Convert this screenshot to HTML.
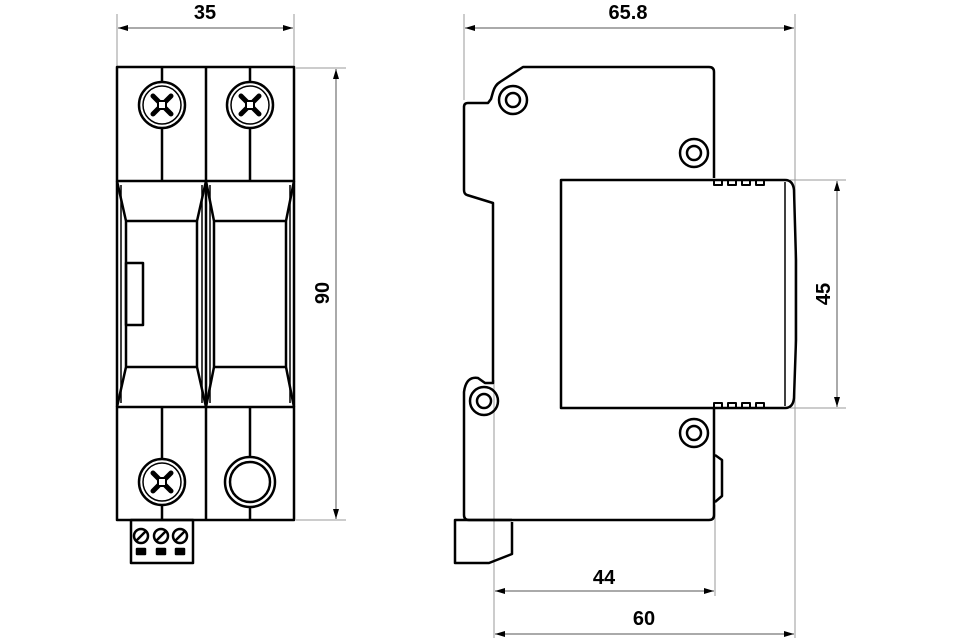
<!DOCTYPE html>
<html><head><style>html,body{margin:0;padding:0;background:#fff}svg{display:block}</style></head><body>
<svg width="960" height="640" viewBox="0 0 960 640" xmlns="http://www.w3.org/2000/svg">
<defs>
<marker id="a" viewBox="0 0 10 6" refX="10" refY="3" markerWidth="10" markerHeight="6" orient="auto-start-reverse" markerUnits="userSpaceOnUse"><path d="M0,0 L10,3 L0,6 Z" fill="#000"/></marker>
</defs>
<g stroke="#999" stroke-width="1" fill="none">
<line x1="117" y1="14" x2="117" y2="66"/><line x1="294" y1="14" x2="294" y2="66"/>
<line x1="296" y1="68" x2="346" y2="68"/><line x1="296" y1="520" x2="346" y2="520"/>
<line x1="464" y1="14" x2="464" y2="100"/><line x1="795" y1="14" x2="795" y2="638"/>
<line x1="790" y1="180" x2="846" y2="180"/><line x1="790" y1="408" x2="846" y2="408"/>
<line x1="494" y1="380" x2="494" y2="638"/><line x1="715" y1="505" x2="715" y2="596"/>
</g>
<g stroke="#555" stroke-width="1" fill="none">
<line x1="118" y1="28" x2="293" y2="28" marker-start="url(#a)" marker-end="url(#a)"/>
<line x1="336" y1="69" x2="336" y2="519" marker-start="url(#a)" marker-end="url(#a)"/>
<line x1="465" y1="28" x2="794" y2="28" marker-start="url(#a)" marker-end="url(#a)"/>
<line x1="837" y1="181" x2="837" y2="407" marker-start="url(#a)" marker-end="url(#a)"/>
<line x1="495" y1="591" x2="714" y2="591" marker-start="url(#a)" marker-end="url(#a)"/>
<line x1="495" y1="634" x2="794" y2="634" marker-start="url(#a)" marker-end="url(#a)"/>
</g>
<g font-family="Liberation Sans, sans-serif" font-weight="bold" font-size="20" fill="#000" text-anchor="middle">
<text x="205" y="19">35</text>
<text x="628" y="19">65.8</text>
<text x="604" y="584">44</text>
<text x="644" y="625">60</text>
<text transform="translate(329,293) rotate(-90)">90</text>
<text transform="translate(830,294) rotate(-90)">45</text>
</g>
<g stroke="#000" stroke-width="2.5" fill="none" stroke-linejoin="round">
<rect x="117" y="67" width="177" height="453"/>
<line x1="206" y1="67" x2="206" y2="520"/>
<line x1="117" y1="181" x2="294" y2="181"/>
<line x1="117" y1="407" x2="294" y2="407"/>
<line x1="162" y1="67" x2="162" y2="181"/><line x1="250" y1="67" x2="250" y2="181"/>
<line x1="162" y1="407" x2="162" y2="520"/><line x1="250" y1="407" x2="250" y2="520"/>
<path d="M117,181 L126,221 L126,367 L117,407"/>
<path d="M206,181 L197,221 L197,367 L206,407"/>
<path d="M206,181 L214,221 L214,367 L206,407"/>
<path d="M294,181 L286,221 L286,367 L294,407"/>
<line x1="126" y1="221" x2="197" y2="221"/><line x1="214" y1="221" x2="286" y2="221"/>
<line x1="126" y1="367" x2="197" y2="367"/><line x1="214" y1="367" x2="286" y2="367"/>
<line x1="121" y1="185" x2="121" y2="403" stroke-width="1.5"/>
<line x1="202" y1="185" x2="202" y2="403" stroke-width="1.5"/>
<line x1="210" y1="185" x2="210" y2="403" stroke-width="1.5"/>
<line x1="290" y1="185" x2="290" y2="403" stroke-width="1.5"/>
<rect x="126" y="263" width="17" height="62"/>
<g fill="#fff">
<circle cx="162" cy="105" r="23"/><circle cx="250" cy="105" r="23"/>
<circle cx="162" cy="482" r="23"/><circle cx="250" cy="482" r="25"/>
</g>
<circle cx="162" cy="105" r="19" stroke-width="1.5"/><circle cx="250" cy="105" r="19" stroke-width="1.5"/>
<circle cx="162" cy="482" r="19" stroke-width="1.5"/><circle cx="250" cy="482" r="20"/>
<g stroke-width="5" stroke-linecap="round">
<path d="M153,96 l18,18 M171,96 l-18,18"/>
<path d="M241,96 l18,18 M259,96 l-18,18"/>
<path d="M153,473 l18,18 M171,473 l-18,18"/>
</g>
<g fill="#fff" stroke-width="2">
<rect x="158" y="101" width="8" height="8"/>
<rect x="246" y="101" width="8" height="8"/>
<rect x="158" y="478" width="8" height="8"/>
</g>
<rect x="131" y="520" width="62" height="43"/>
<circle cx="141" cy="536" r="7"/><circle cx="161" cy="536" r="7"/><circle cx="180" cy="536" r="7"/>
<path d="M136,541 l10,-10 M156,541 l10,-10 M175,541 l10,-10" stroke-width="2.5"/>
<rect x="137" y="549" width="8" height="5" fill="#000"/><rect x="157" y="549" width="8" height="5" fill="#000"/><rect x="176" y="549" width="8" height="5" fill="#000"/>

<path d="M714,178 L714,72 Q714,67 709,67 L523,67 L500,82 Q495,85 493,92 L491,99 L488,103 L468,103 Q464,103 464,107 L464,190 Q464,194 467,195 L493,203 L493,383 L485,383 L478,378 Q466,376 464,392 L464,515 Q464,520 469,520 L709,520 Q714,520 714,515 L714,409"/>
<path d="M561,180 L785,180 Q793,180 794,190 L796,260 L796,340 L794,398 Q793,408 785,408 L561,408 Z"/>
<line x1="785" y1="182" x2="785" y2="406" stroke-width="1.5"/>
<path d="M714,180 v5 h8 v-5 M728,180 v5 h8 v-5 M742,180 v5 h8 v-5 M756,180 v5 h8 v-5" stroke-width="2"/>
<path d="M714,408 v-5 h8 v5 M728,408 v-5 h8 v5 M742,408 v-5 h8 v5 M756,408 v-5 h8 v5" stroke-width="2"/>
<circle cx="513" cy="100" r="14"/><circle cx="513" cy="100" r="7"/>
<circle cx="694" cy="153" r="14"/><circle cx="694" cy="153" r="7"/>
<circle cx="484" cy="401" r="14"/><circle cx="484" cy="401" r="7"/>
<circle cx="694" cy="433" r="14"/><circle cx="694" cy="433" r="7"/>
<path d="M715,455 L722,460 L722,496 L715,502"/>
<path d="M512,522 L512,554 L489,563 L455,563 L455,520 L512,520"/>
</g>
</svg>
</body></html>
